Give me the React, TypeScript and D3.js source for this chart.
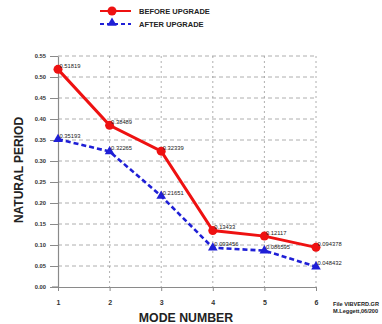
import React, { useRef, useEffect } from 'react';
import * as d3 from 'd3';

const modes = [1, 2, 3, 4, 5, 6];
const beforeValues = [0.51819, 0.38489, 0.32339, 0.13433, 0.12117, 0.094378];
const afterValues = [0.35193, 0.32265, 0.21651, 0.093456, 0.086595, 0.048432];
const beforeLabels = ['0.51819', '0.38489', '0.32339', '0.13433', '0.12117', '0.094378'];
const afterLabels = ['0.35193', '0.32265', '0.21651', '0.093456', '0.086595', '0.048432'];
const yTicks = [0, 0.05, 0.1, 0.15, 0.2, 0.25, 0.3, 0.35, 0.4, 0.45, 0.5, 0.55];

const RED = '#ee1111';
const BLUE = '#1f1fd6';
const FONT = 'Arial, "Liberation Sans", sans-serif';

const App: React.FC = () => {
    const svgRef = useRef<SVGSVGElement | null>(null);

    useEffect(() => {
        if (!svgRef.current) return;
        const svg = d3.select(svgRef.current);
        svg.selectAll('*').remove();

        const x = d3.scaleLinear().domain([1, 6]).range([58, 316]);
        const y = d3.scaleLinear().domain([0, 0.55]).range([287, 56]);

        // grid
        const grid = svg.append('g');
        grid.selectAll('line.h')
            .data(yTicks.filter(t => t > 0))
            .join('line')
            .attr('x1', x(1)).attr('x2', x(6))
            .attr('y1', d => y(d)).attr('y2', d => y(d))
            .attr('stroke', '#9a9a9a').attr('stroke-width', 0.8)
            .attr('stroke-dasharray', '4,3');
        grid.selectAll('line.v')
            .data(modes.filter(m => m > 1))
            .join('line')
            .attr('x1', d => x(d)).attr('x2', d => x(d))
            .attr('y1', y(0.55)).attr('y2', y(0))
            .attr('stroke', '#9a9a9a').attr('stroke-width', 0.8)
            .attr('stroke-dasharray', '2,3');

        // axes
        const yAxis = svg.append('g').attr('transform', `translate(${x(1)},0)`)
            .call(d3.axisLeft(y).tickValues(yTicks).tickFormat(d3.format('.2f')).tickSize(8).tickSizeOuter(0));
        yAxis.select('.domain').attr('stroke', '#8a8a8a').attr('stroke-width', 1.2);
        yAxis.selectAll('.tick line').attr('stroke', '#8a8a8a');
        yAxis.selectAll('.tick text')
            .attr('x', -12)
            .style('font-family', FONT).style('font-size', '5.8px').style('font-weight', 'bold').attr('fill', '#333');

        const xAxis = svg.append('g').attr('transform', `translate(0,${y(0)})`)
            .call(d3.axisBottom(x).tickValues(modes).tickFormat(d3.format('d')).tickSize(4).tickSizeOuter(0));
        xAxis.select('.domain').attr('stroke', '#8a8a8a').attr('stroke-width', 1.2);
        xAxis.selectAll('.tick line').attr('stroke', '#8a8a8a');
        xAxis.selectAll('.tick text')
            .attr('y', 13)
            .style('font-family', FONT).style('font-size', '7px').style('font-weight', 'bold').attr('fill', '#333');
        svg.append('line')
            .attr('x1', x(1) - 6).attr('x2', x(1))
            .attr('y1', y(0)).attr('y2', y(0))
            .attr('stroke', '#8a8a8a').attr('stroke-width', 1.2);

        // series
        const line = d3.line<number>().x((_, i) => x(modes[i])).y(d => y(d));

        svg.append('path').datum(afterValues)
            .attr('d', line).attr('fill', 'none')
            .attr('stroke', BLUE).attr('stroke-width', 2.6)
            .attr('stroke-dasharray', '5,3');
        svg.append('path').datum(beforeValues)
            .attr('d', line).attr('fill', 'none')
            .attr('stroke', RED).attr('stroke-width', 3);

        const tri = d3.symbol().type(d3.symbolTriangle).size(40);
        svg.selectAll('path.tri')
            .data(afterValues)
            .join('path')
            .attr('class', 'tri')
            .attr('d', tri)
            .attr('transform', (d, i) => `translate(${x(modes[i])},${y(d)})`)
            .attr('fill', BLUE);
        svg.selectAll('circle.pt')
            .data(beforeValues)
            .join('circle')
            .attr('class', 'pt')
            .attr('cx', (_, i) => x(modes[i])).attr('cy', d => y(d))
            .attr('r', 4.5).attr('fill', RED);

        // value labels
        const labels = (vals: number[], texts: string[]) => svg.append('g')
            .selectAll('text')
            .data(vals)
            .join('text')
            .attr('x', (_, i) => x(modes[i]) + 1.5)
            .attr('y', d => y(d) - 1.5)
            .text((_, i) => texts[i])
            .style('font-family', FONT).style('font-size', '5.8px').attr('fill', '#222');
        labels(beforeValues, beforeLabels);
        labels(afterValues, afterLabels);

        // axis titles
        svg.append('text')
            .attr('transform', `translate(23,170) rotate(-90)`)
            .attr('text-anchor', 'middle')
            .text('NATURAL PERIOD')
            .style('font-family', FONT).style('font-size', '12px').style('font-weight', 'bold').attr('fill', '#222');
        svg.append('text')
            .attr('x', 186).attr('y', 322)
            .attr('text-anchor', 'middle')
            .text('MODE NUMBER')
            .style('font-family', FONT).style('font-size', '12.3px').style('font-weight', 'bold').attr('fill', '#222');

        // legend
        const legend = svg.append('g');
        legend.append('line').attr('x1', 100).attr('x2', 131).attr('y1', 11).attr('y2', 11)
            .attr('stroke', RED).attr('stroke-width', 2);
        legend.append('circle').attr('cx', 112).attr('cy', 11).attr('r', 4.5).attr('fill', RED);
        legend.append('line').attr('x1', 100).attr('x2', 131).attr('y1', 24).attr('y2', 24)
            .attr('stroke', BLUE).attr('stroke-width', 2).attr('stroke-dasharray', '4,3');
        legend.append('path').attr('d', tri).attr('transform', 'translate(112,23)').attr('fill', BLUE);
        legend.append('text').attr('x', 139).attr('y', 13.5).text('BEFORE UPGRADE')
            .style('font-family', FONT).style('font-size', '7.5px').style('font-weight', 'bold').attr('fill', '#222');
        legend.append('text').attr('x', 139).attr('y', 26.5).text('AFTER UPGRADE')
            .style('font-family', FONT).style('font-size', '7.5px').style('font-weight', 'bold').attr('fill', '#222');

        // file note (cut at the edge in the source image)
        svg.append('text').attr('x', 333).attr('y', 306).text('File VIBVERD.GR')
            .style('font-family', FONT).style('font-size', '5.6px').style('font-weight', 'bold').attr('fill', '#222');
        svg.append('text').attr('x', 333).attr('y', 313).text('M.Leggett,06/200')
            .style('font-family', FONT).style('font-size', '5.6px').style('font-weight', 'bold').attr('fill', '#222');
    }, []);

    return (
        <div style={{ position: 'absolute', left: 0, top: 0, width: 382, height: 324, background: '#fff', overflow: 'hidden' }}>
            <svg ref={svgRef} width={382} height={324} style={{ display: 'block' }}></svg>
        </div>
    );
};

export default App;
